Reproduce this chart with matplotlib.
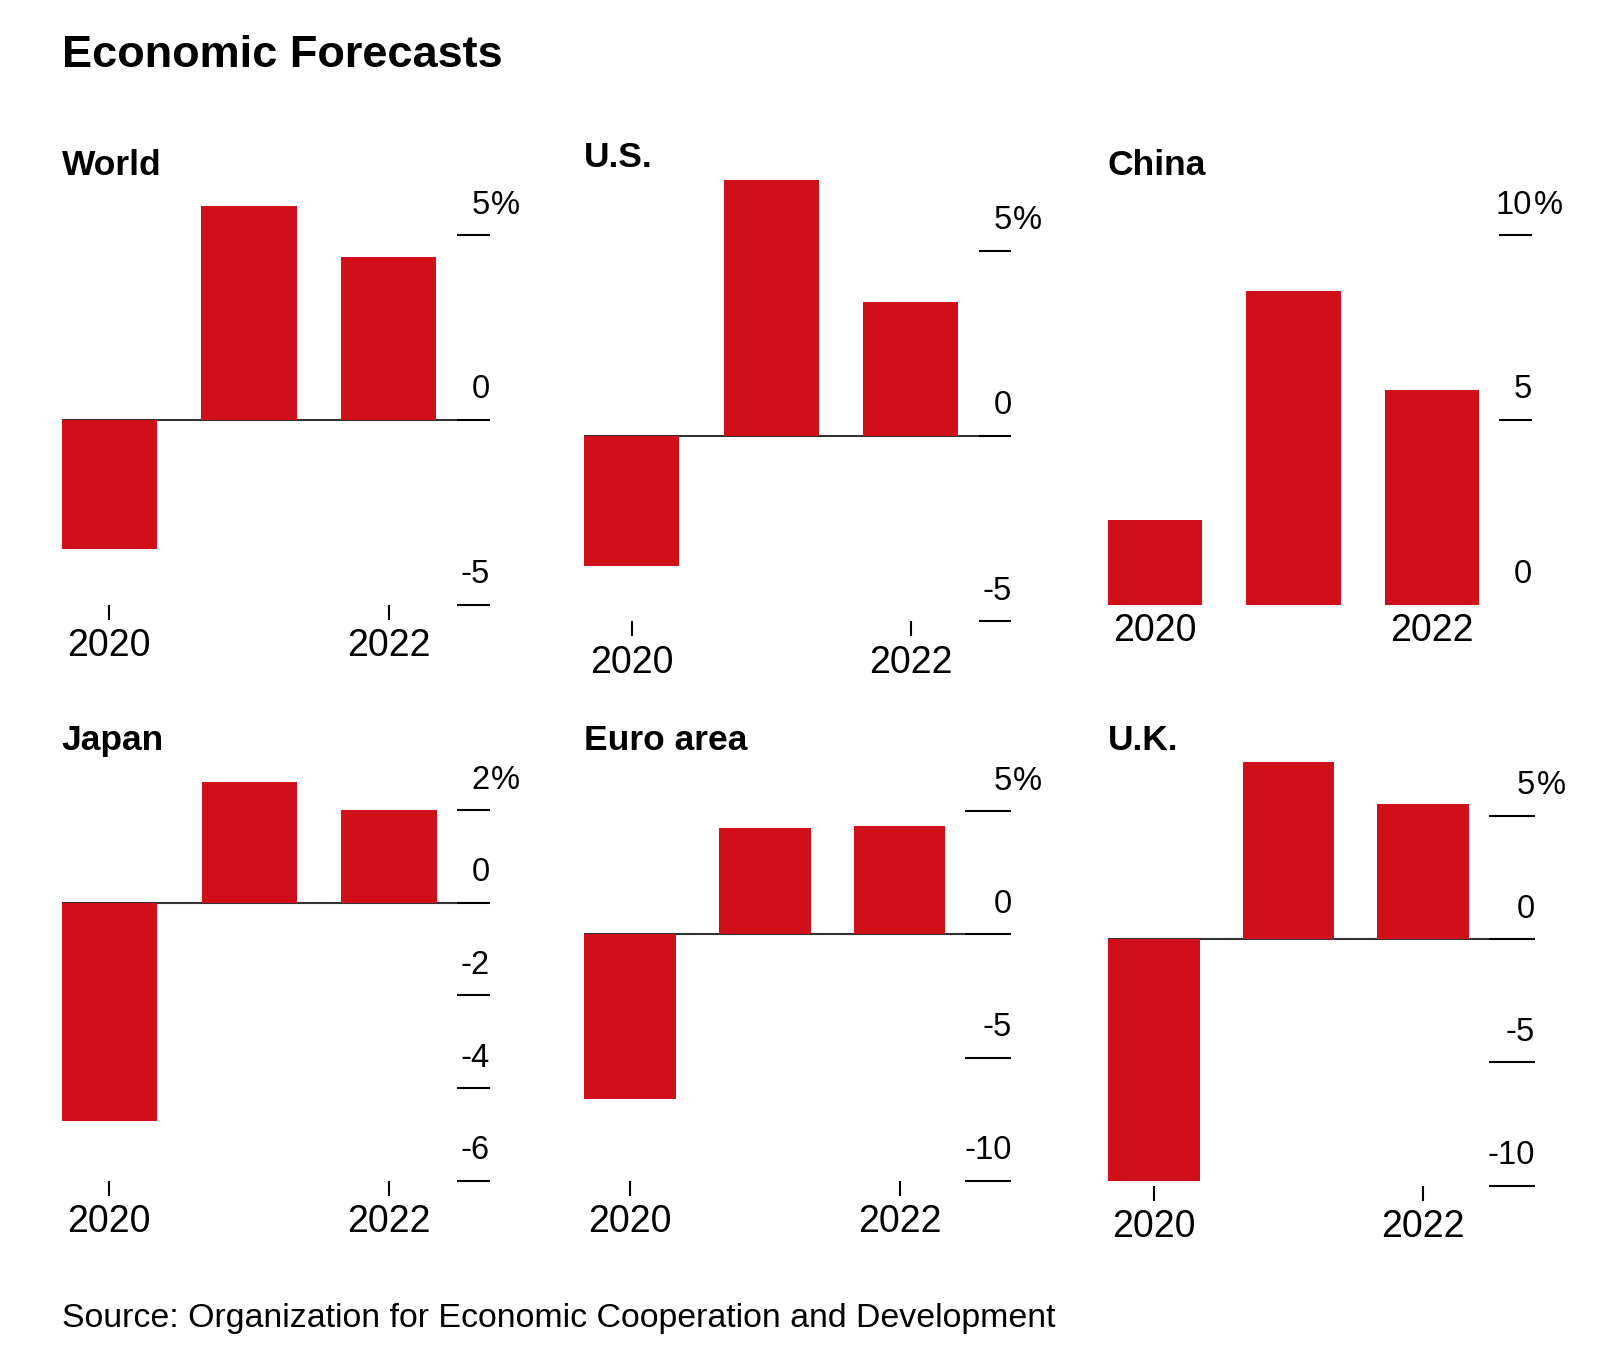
import matplotlib.pyplot as plt

plt.rcParams['font.family'] = ['Liberation Sans', 'DejaVu Sans']

RED = '#d10f1b'
W, H = 1610, 1370

# GDP growth forecasts, % (2020, 2021, 2022)
years = [2020, 2021, 2022]
world = [-3.5, 5.8, 4.4]
us = [-3.5, 6.9, 3.6]
china = [2.3, 8.5, 5.8]
japan = [-4.7, 2.6, 2.0]
euro = [-6.7, 4.3, 4.4]
uk = [-9.8, 7.2, 5.5]

world_ticks = [-5, 0, 5]
us_ticks = [-5, 0, 5]
china_ticks = [0, 5, 10]
japan_ticks = [-6, -4, -2, 0, 2]
euro_ticks = [-10, -5, 0, 5]
uk_ticks = [-10, -5, 0, 5]

year_labels = ['2020', '2022']

# name, values, ticks, box in px (left, right, top tick, bottom tick), title baseline px
panels = [
    ('World', world, world_ticks, (61.6, 489.5, 235.1, 604.8), 175),
    ('U.S.', us, us_ticks, (584.2, 1011.4, 250.5, 621.2), 166.7),
    ('China', china, china_ticks, (1107.9, 1532, 235.1, 604.8), 175),
    ('Japan', japan, japan_ticks, (61.6, 489.8, 810.1, 1180.8), 750),
    ('Euro area', euro, euro_ticks, (584.2, 1011.4, 811.2, 1180.8), 750),
    ('U.K.', uk, uk_ticks, (1107.9, 1535, 816, 1185.7), 750),
]

fig = plt.figure(figsize=(W / 100, H / 100), dpi=100)

fig.text(61.6 / W, 1 - 66.7 / H, 'Economic Forecasts', fontsize=32.5,
         fontweight='bold', va='baseline', ha='left')

for name, vals, ticks, box, tbase in panels:
    l, r, t, b = box
    ax = fig.add_axes([l / W, 1 - b / H, (r - l) / W, (b - t) / H])
    xs = list(range(len(years)))
    ax.bar(xs, vals, width=0.68, color=RED, zorder=2, clip_on=False)

    x0 = -0.34
    tick_start = 2.485
    wide = any(len(str(v)) > 2 for v in ticks)
    xmax = 2.83 if wide else 2.72
    ax.set_xlim(x0, xmax)
    ax.set_ylim(min(ticks), max(ticks))

    if min(ticks) < 0:
        ax.plot([x0, tick_start], [0, 0], color='#333333', lw=1.5, zorder=1,
                solid_capstyle='butt')

    for v in ticks:
        if v != min(ticks) or v < 0:
            ax.plot([tick_start, xmax], [v, v], color='black', lw=1.5,
                    clip_on=False, solid_capstyle='butt')
        ax.annotate(str(v), (xmax, v), xytext=(0, 15.5), textcoords='offset points',
                    ha='right', va='baseline', fontsize=23.5, annotation_clip=False)
        if v == max(ticks):
            ax.annotate('%', (xmax, v), xytext=(1, 15.5), textcoords='offset points',
                        ha='left', va='baseline', fontsize=23.5, annotation_clip=False)

    ax.set_xticks([0, 2], year_labels)
    ax.tick_params(axis='x', length=10.8 if min(ticks) < 0 else 0, width=1.5,
                   pad=6, labelsize=27, colors='black')
    ax.set_yticks([])
    for s in ax.spines.values():
        s.set_visible(False)

    fig.text(l / W, 1 - tbase / H, name, fontsize=25.5, fontweight='bold',
             va='baseline', ha='left')

fig.text(61.6 / W, 1 - 1326.7 / H,
         'Source: Organization for Economic Cooperation and Development',
         fontsize=24.4, va='baseline', ha='left')

fig.savefig('out.png', dpi=100)
